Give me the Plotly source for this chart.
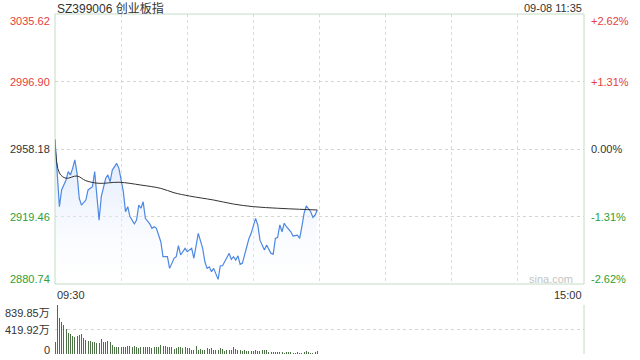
import plotly.graph_objects as go

# ---------------- data ----------------
title_text = "SZ399006 创业板指"
time_text = "09-08 11:35"
prev_close = 2958.18
price_ticks = [3035.62, 2996.90, 2958.18, 2919.46, 2880.74]
price_tick_labels = ["3035.62", "2996.90", "2958.18", "2919.46", "2880.74"]
pct_tick_labels = ["+2.62%", "+1.31%", "0.00%", "-1.31%", "-2.62%"]
tick_colors = ["#e5403c", "#e5403c", "#333333", "#2f9e35", "#2f9e35"]
vol_ticks = [839.85, 419.92, 0]
vol_tick_labels = ["839.85万", "419.92万", "0"]
x_tick_labels = ["09:30", "15:00"]

# minutes since 09:30 (trading minutes, 240 for full day)
price_min = [0, 2, 3, 5, 6, 7, 8, 9, 10, 11, 12, 14, 15, 17, 18, 19, 20, 21, 23, 24,
             25, 26, 28, 29, 31, 32, 33, 34, 36, 37, 38, 39, 40, 41, 43, 44, 45, 46, 48, 49,
             51, 52, 54, 55, 56, 57, 59, 60, 62, 63, 65, 67, 68, 69, 70, 71, 72, 74, 75, 76,
             77, 79, 80, 81, 82, 83, 84, 85, 87, 88, 89, 91, 92, 93, 95, 96, 98, 99, 100, 101,
             102, 103, 104, 105, 107, 108, 110, 111, 112, 113, 114, 116, 117, 118, 119]
price_val = [2963.7, 2925.1, 2934.7, 2940.4, 2945.2, 2943.3, 2947.1, 2951.9, 2944.2, 2929.9,
             2926.0, 2928.9, 2934.7, 2936.6, 2945.2, 2930.9, 2917.4, 2930.9, 2941.4, 2943.3,
             2939.4, 2946.1, 2949.9, 2947.1, 2933.7, 2922.2, 2925.1, 2919.4, 2915.2, 2917.4,
             2926.0, 2924.2, 2927.9, 2918.4, 2915.2, 2912.7, 2913.6, 2912.7, 2905.0, 2896.4,
             2896.4, 2889.7, 2895.5, 2896.4, 2902.7, 2897.4, 2901.2, 2899.3, 2901.2, 2895.5,
             2909.8, 2901.2, 2893.5, 2889.7, 2890.6, 2887.8, 2889.7, 2883.4, 2891.2, 2891.2,
             2893.9, 2898.3, 2894.9, 2896.4, 2894.5, 2896.9, 2892.0, 2892.6, 2902.1, 2906.9,
             2909.8, 2918.4, 2914.6, 2905.9, 2900.3, 2903.1, 2898.3, 2897.9, 2906.9, 2907.5,
             2914.6, 2910.7, 2915.6, 2913.6, 2910.7, 2908.3, 2908.8, 2906.9, 2913.6, 2921.3,
             2925.5, 2922.2, 2919.0, 2920.3, 2923.2]

avg_min = [0, 2, 5, 10, 14, 20, 29, 39, 48, 54, 61, 72, 81, 90, 101, 111, 119]
avg_val = [2963.7, 2944.4, 2941.4, 2942.7, 2940.0, 2938.5, 2939.1, 2937.5, 2935.6, 2933.1,
           2931.2, 2928.9, 2926.6, 2925.1, 2924.2, 2923.6, 2923.2]

vol_val = [211, 839.85, 612, 554, 497, 423, 365, 337, 309, 297,
           309, 326, 337, 269, 240, 223, 223, 211, 200, 195,
           183, 257, 200, 211, 223, 200, 154, 126, 126, 114,
           126, 114, 114, 137, 137, 114, 137, 114, 103, 114,
           114, 126, 126, 114, 97,
           114, 126, 114, 154, 137, 137, 114, 114, 114, 91,
           103, 114, 114, 97, 114, 103, 97,
           69, 69, 137, 69, 80, 69, 69, 97, 80, 97,
           69, 69, 69, 97, 80, 57, 69, 69, 69, 114,
           80, 69, 69, 57, 69, 51, 51, 51, 51, 69,
           51, 57, 69, 69, 69, 34, 34, 34, 34, 34,
           34, 34, 23, 34, 34, 34, 23, 23, 34, 23,
           23, 34, 51, 34, 23, 23, 34, 51]
vol_min = list(range(len(vol_val)))

# ---------------- figure ----------------
FONT = "Arial, 'Liberation Sans', 'Noto Sans CJK SC', sans-serif"
BORDER = "#c6dcc6"
GRID = "#cdd9cd"

fig = go.Figure()

base = [price_ticks[-1]] * len(price_min)
fig.add_trace(go.Scatter(x=price_min, y=base, mode="lines", line=dict(width=0),
                         hoverinfo="skip", showlegend=False, xaxis="x", yaxis="y"))
fig.add_trace(go.Scatter(
    x=price_min, y=price_val, mode="lines", fill="tonexty",
    fillgradient=dict(type="vertical", start=price_ticks[-1], stop=max(price_val),
                      colorscale=[[0, "rgba(255,255,255,0.2)"], [1, "rgba(205,222,250,0.75)"]]),
    line=dict(color="#4d88e2", width=1.2), showlegend=False, xaxis="x", yaxis="y"))
fig.add_trace(go.Scatter(x=avg_min, y=avg_val, mode="lines", line=dict(color="#333333", width=1),
                         line_shape="spline", showlegend=False, xaxis="x", yaxis="y"))
fig.add_trace(go.Bar(x=vol_min, y=vol_val, width=0.46,
                     marker=dict(color="rgba(75,111,69,0.99)", line=dict(width=0)),
                     showlegend=False, xaxis="x2", yaxis="y2"))

top_h = 340.0
fig.update_layout(
    width=640, height=360, autosize=False,
    margin=dict(l=55, r=56, t=14, b=6),
    paper_bgcolor="white", plot_bgcolor="white",
    font=dict(family=FONT, size=11, color="#333333"),
    xaxis=dict(domain=[0, 1], range=[0, 240], anchor="y", showticklabels=False, ticks="",
               tickvals=[30, 60, 90, 120, 150, 180, 210], showgrid=True, gridcolor="#dadada",
               griddash="dot", gridwidth=1, zeroline=False, showline=False),
    yaxis=dict(domain=[70 / top_h, 1], range=[price_ticks[-1], price_ticks[0]], anchor="x",
               tickvals=price_ticks[1:4], showticklabels=False, ticks="", showgrid=True,
               gridcolor=GRID, griddash="dot", zeroline=False, showline=False),
    xaxis2=dict(domain=[0, 1], range=[0, 240], anchor="y2", showticklabels=False, ticks="",
                showgrid=False, zeroline=False, showline=False),
    yaxis2=dict(domain=[0, 49 / top_h], range=[0, vol_ticks[0]], anchor="x2",
                tickvals=vol_ticks, showticklabels=False, ticks="", showgrid=True,
                gridcolor=GRID, griddash="dot", zeroline=False, showline=False),
    bargap=0,
)

# borders
fig.add_shape(type="rect", xref="x domain", yref="y domain", x0=0, x1=1, y0=0, y1=1,
              line=dict(color=BORDER, width=1), layer="above")
fig.add_shape(type="line", xref="x2 domain", yref="y2 domain", x0=1, x1=1, y0=0, y1=1,
              line=dict(color=BORDER, width=1))

ann = []
shifts = [-7, 0, 0, 0, 5]
for v, lab, pct, col, sh in zip(price_ticks, price_tick_labels, pct_tick_labels, tick_colors, shifts):
    ann.append(dict(x=0, y=v, xref="x", yref="y", text=lab, showarrow=False, xanchor="right",
                    yanchor="middle", xshift=-3, yshift=sh, font=dict(color=col, size=11)))
    ann.append(dict(x=240, y=v, xref="x", yref="y", text=pct, showarrow=False, xanchor="left",
                    yanchor="middle", xshift=5, yshift=sh, font=dict(color=col, size=11)))
for v, lab, sh in zip(vol_ticks, vol_tick_labels, [-8, 0, 4]):
    ann.append(dict(x=0, y=v, xref="x2", yref="y2", text=lab, showarrow=False, xanchor="right",
                    yanchor="middle", xshift=-3, yshift=sh, font=dict(color="#333333", size=11)))
ann.append(dict(x=0, y=price_ticks[-1], xref="x", yref="y", text=x_tick_labels[0], showarrow=False,
                xanchor="left", yanchor="middle", yshift=-11, font=dict(color="#333333", size=11)))
ann.append(dict(x=240, y=price_ticks[-1], xref="x", yref="y", text=x_tick_labels[1], showarrow=False,
                xanchor="right", yanchor="middle", yshift=-11, font=dict(color="#333333", size=11)))
ann.append(dict(x=0, y=1, xref="paper", yref="paper", text=title_text, showarrow=False,
                xanchor="left", yanchor="middle", yshift=6, font=dict(color="#333333", size=12)))
ann.append(dict(x=1, y=1, xref="paper", yref="paper", text=time_text, showarrow=False,
                xanchor="right", yanchor="middle", yshift=6, font=dict(color="#333333", size=11)))
ann.append(dict(x=240, y=price_ticks[-1], xref="x", yref="y", text="sina.com", showarrow=False,
                xanchor="right", yanchor="middle", xshift=-9, yshift=5,
                font=dict(color="#c4c4c4", size=11)))
fig.update_layout(annotations=ann)

fig.write_html("out.html")
